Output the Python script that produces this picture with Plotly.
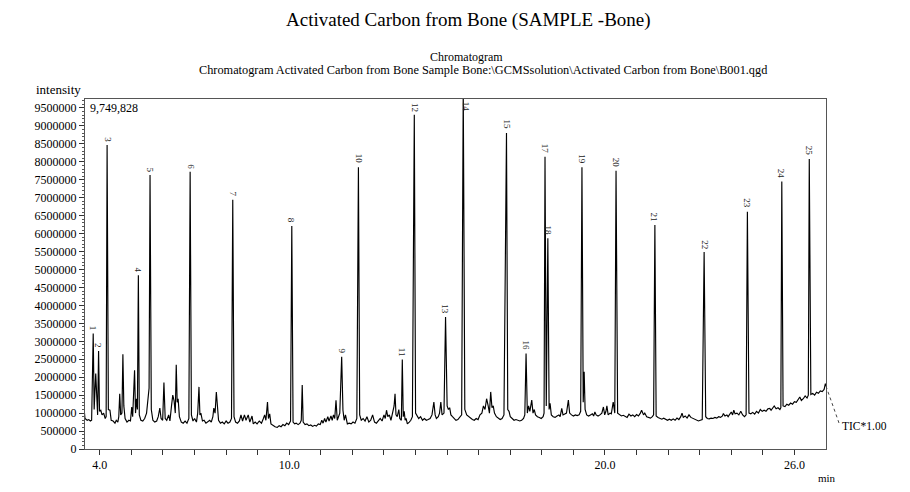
import plotly.graph_objects as go

# ---------------- data ----------------
peak_no = list(range(1, 26))
peak_rt = [3.79, 3.96, 4.23, 5.22, 5.59, 6.86, 8.21, 10.08, 11.66, 12.19,
           13.58, 13.96, 14.95, 15.51, 16.88, 17.50, 18.10, 18.19, 19.27, 20.35,
           21.58, 23.14, 24.51, 25.60, 26.47]
peak_height = [3220000, 2730000, 8470000, 4840000, 7630000, 7720000, 6940000, 6210000,
               2570000, 7850000, 2490000, 9310000, 3680000, 10050000, 8800000, 2660000,
               8140000, 5870000, 7850000, 7750000, 6240000, 5490000, 6610000, 7450000,
               8080000]

# baseline / minor peaks of the TIC trace (retention time in min, intensity in millions)
base_rt = [3.50, 3.53, 3.60, 3.65, 3.70, 3.74, 3.82, 3.87, 3.91, 3.93, 3.99, 4.03, 4.07, 4.12,
           4.17, 4.20, 4.27, 4.32, 4.36, 4.42, 4.48, 4.52, 4.57, 4.60, 4.63, 4.66, 4.70, 4.73,
           4.76, 4.80, 4.86, 4.92, 4.97, 5.01, 5.04, 5.10, 5.13, 5.16, 5.19, 5.25, 5.30, 5.36,
           5.42, 5.48, 5.52, 5.56, 5.63, 5.68, 5.74, 5.80, 5.85, 5.90, 5.94, 5.99, 6.03, 6.07,
           6.12, 6.18, 6.22, 6.27, 6.31, 6.35, 6.39, 6.42, 6.45, 6.48, 6.52, 6.58, 6.64, 6.70,
           6.76, 6.82, 6.90, 6.95, 7.00, 7.06, 7.10, 7.14, 7.17, 7.20, 7.25, 7.30, 7.36, 7.42,
           7.48, 7.53, 7.58, 7.61, 7.65, 7.69, 7.72, 7.76, 7.82, 7.88, 7.94, 8.00, 8.06, 8.12,
           8.17, 8.25, 8.30, 8.36, 8.42, 8.47, 8.52, 8.58, 8.63, 8.70, 8.75, 8.82, 8.86, 8.92,
           8.98, 9.05, 9.12, 9.18, 9.22, 9.26, 9.31, 9.34, 9.38, 9.42, 9.48, 9.55, 9.62, 9.68,
           9.74, 9.80, 9.86, 9.92, 9.98, 10.04, 10.12, 10.17, 10.22, 10.28, 10.34, 10.38, 10.41,
           10.44, 10.50, 10.56, 10.62, 10.68, 10.74, 10.80, 10.86, 10.92, 10.98, 11.03, 11.07,
           11.12, 11.16, 11.22, 11.26, 11.32, 11.36, 11.40, 11.44, 11.48, 11.52, 11.56, 11.60,
           11.70, 11.74, 11.78, 11.84, 11.90, 11.96, 12.02, 12.08, 12.14, 12.23, 12.28, 12.34,
           12.40, 12.46, 12.52, 12.58, 12.64, 12.70, 12.76, 12.82, 12.88, 12.94, 13.00, 13.04,
           13.08, 13.12, 13.17, 13.22, 13.28, 13.32, 13.35, 13.38, 13.42, 13.47, 13.50, 13.55,
           13.61, 13.64, 13.67, 13.70, 13.74, 13.80, 13.85, 13.90, 14.00, 14.05, 14.10, 14.16,
           14.22, 14.28, 14.34, 14.40, 14.46, 14.52, 14.58, 14.62, 14.66, 14.72, 14.76, 14.80,
           14.84, 14.90, 15.00, 15.04, 15.08, 15.12, 15.17, 15.22, 15.28, 15.34, 15.40, 15.46,
           15.56, 15.62, 15.68, 15.74, 15.80, 15.86, 15.92, 15.98, 16.04, 16.10, 16.15, 16.20,
           16.25, 16.30, 16.34, 16.38, 16.42, 16.46, 16.50, 16.56, 16.62, 16.68, 16.74, 16.80,
           16.92, 16.96, 17.00, 17.06, 17.12, 17.18, 17.24, 17.30, 17.36, 17.42, 17.46, 17.54,
           17.58, 17.62, 17.68, 17.72, 17.76, 17.80, 17.86, 17.92, 17.98, 18.04, 18.07, 18.14,
           18.23, 18.26, 18.30, 18.36, 18.42, 18.48, 18.54, 18.58, 18.63, 18.67, 18.72, 18.78,
           18.84, 18.88, 18.94, 19.00, 19.06, 19.12, 19.18, 19.23, 19.31, 19.34, 19.37, 19.42,
           19.48, 19.54, 19.60, 19.64, 19.68, 19.72, 19.78, 19.84, 19.90, 19.95, 19.99, 20.03,
           20.06, 20.10, 20.16, 20.20, 20.26, 20.31, 20.40, 20.46, 20.52, 20.58, 20.64, 20.70,
           20.76, 20.82, 20.88, 20.94, 21.00, 21.06, 21.12, 21.16, 21.22, 21.26, 21.32, 21.38,
           21.44, 21.50, 21.54, 21.62, 21.68, 21.74, 21.80, 21.86, 21.92, 21.98, 22.04, 22.10,
           22.16, 22.22, 22.28, 22.34, 22.40, 22.44, 22.48, 22.54, 22.60, 22.66, 22.72, 22.78,
           22.84, 22.90, 22.96, 23.02, 23.08, 23.19, 23.24, 23.30, 23.36, 23.42, 23.48, 23.54,
           23.60, 23.66, 23.72, 23.75, 23.80, 23.86, 23.90, 23.96, 24.00, 24.04, 24.08, 24.12,
           24.18, 24.24, 24.30, 24.36, 24.42, 24.47, 24.56, 24.62, 24.68, 24.74, 24.80, 24.86,
           24.92, 24.98, 25.04, 25.10, 25.16, 25.22, 25.26, 25.32, 25.36, 25.42, 25.48, 25.54,
           25.57, 25.64, 25.70, 25.76, 25.82, 25.88, 25.94, 26.00, 26.06, 26.12, 26.17, 26.22,
           26.28, 26.34, 26.40, 26.44, 26.52, 26.58, 26.64, 26.70, 26.76, 26.82, 26.88, 26.94,
           26.98, 27.00]
base_int_m = [1.13, 0.85, 0.80, 0.82, 0.78, 0.80, 1.10, 2.10, 1.00, 0.95, 1.05, 1.08, 0.95, 1.00,
              0.85, 0.90, 1.10, 1.08, 0.80, 0.78, 0.72, 0.80, 0.75, 0.90, 1.54, 0.95, 1.00, 2.64,
              1.20, 0.85, 0.75, 0.80, 0.78, 1.17, 0.90, 2.19, 1.00, 1.40, 1.10, 0.95, 0.80, 0.78,
              0.85, 1.00, 1.45, 1.70, 1.10, 0.80, 0.75, 0.78, 0.90, 1.14, 0.85, 0.80, 1.85, 0.85,
              0.80, 0.95, 0.78, 1.20, 1.50, 1.35, 1.00, 2.35, 1.30, 1.40, 0.90, 0.75, 0.72, 0.78,
              0.72, 0.85, 0.95, 0.78, 0.85, 0.75, 1.00, 1.73, 0.95, 1.00, 0.78, 0.80, 0.72, 0.75,
              0.80, 0.75, 0.90, 1.14, 1.00, 1.59, 1.10, 0.80, 0.72, 0.75, 0.70, 0.78, 0.72, 0.75,
              0.85, 0.90, 0.75, 0.72, 0.78, 0.95, 0.78, 0.95, 0.80, 0.95, 0.75, 0.92, 0.70, 0.75,
              0.70, 0.78, 0.72, 0.85, 0.95, 0.80, 1.31, 0.85, 0.98, 0.70, 0.65, 0.62, 0.60, 0.65,
              0.62, 0.68, 0.65, 0.72, 0.68, 0.78, 0.75, 0.70, 0.72, 0.68, 0.72, 0.80, 1.78,
              0.75, 0.68, 0.70, 0.65, 0.67, 0.63, 0.66, 0.64, 0.70, 0.68, 0.80, 0.72,
              0.85, 0.75, 0.90, 0.78, 0.92, 0.80, 0.95, 0.85, 1.36, 0.80, 0.90, 1.00,
              1.08, 0.80, 0.95, 0.70, 0.72, 0.70, 0.75, 0.72, 0.85, 0.95, 0.80, 0.85,
              0.78, 0.90, 0.75, 0.80, 0.95, 0.75, 0.72, 0.80, 0.85, 0.78, 0.95, 0.85,
              1.08, 0.90, 0.95, 0.80, 1.00, 1.20, 1.54, 0.95, 0.90, 1.10, 0.85, 0.80,
              0.90, 1.05, 0.80, 0.85, 0.70, 0.75, 0.80, 0.90, 1.00, 0.90, 0.85, 0.90,
              0.80, 0.85, 0.80, 0.82, 0.85, 0.95, 1.31, 0.95, 0.85, 0.90, 1.00, 1.31,
              0.95, 1.00, 1.20, 1.10, 1.15, 0.95, 0.90, 0.85, 0.80, 0.82, 0.88, 0.95,
              1.10, 0.95, 0.90, 0.85, 0.82, 0.80, 0.85, 0.82, 0.95, 1.00, 1.20, 1.10,
              1.40, 1.20, 1.00, 1.59, 1.15, 1.20, 1.00, 0.90, 0.85, 0.82, 0.85, 0.95,
              1.10, 1.05, 0.90, 0.85, 0.80, 0.82, 0.80, 0.78, 0.80, 0.85, 0.95, 1.00,
              1.20, 1.05, 1.36, 1.00, 1.10, 0.95, 0.90, 0.88, 0.85, 0.90, 1.00, 1.20,
              1.10, 1.27, 0.95, 0.90, 0.88, 0.92, 0.95, 0.90, 1.13, 0.95, 0.98, 1.00,
              1.36, 1.00, 0.95, 0.92, 0.95, 0.93, 0.95, 1.05, 1.30, 2.15, 1.10, 0.95,
              0.92, 0.95, 0.98, 0.92, 1.03, 0.95, 0.92, 0.95, 1.00, 1.17, 0.95, 1.05,
              1.20, 0.95, 1.00, 0.98, 1.31, 1.00, 1.00, 0.95, 0.92, 0.94, 0.90, 0.88,
              0.97, 0.92, 0.95, 0.90, 0.96, 0.92, 1.00, 1.08, 0.95, 1.00, 0.90, 0.88,
              0.86, 0.90, 0.95, 0.92, 0.88, 0.85, 0.83, 0.86, 0.82, 0.80, 0.83, 0.80,
              0.84, 0.80, 0.86, 0.82, 0.90, 1.00, 0.88, 0.92, 0.86, 0.95, 0.88, 0.85,
              0.82, 0.80, 0.78, 0.80, 0.82, 0.90, 0.85, 0.84, 0.86, 0.85, 0.88, 0.86,
              0.90, 0.88, 0.92, 0.99, 0.92, 0.95, 0.90, 1.00, 1.03, 0.95, 1.08, 0.98,
              1.00, 0.95, 1.05, 0.95, 0.90, 0.95, 1.00, 0.98, 1.02, 0.97, 1.05, 1.00,
              1.10, 1.05, 1.08, 1.05, 1.12, 1.13, 1.08, 1.15, 1.20, 1.12, 1.15, 1.10,
              1.15, 1.20, 1.18, 1.25, 1.22, 1.28, 1.25, 1.32, 1.30, 1.38, 1.45, 1.35,
              1.40, 1.48, 1.42, 1.50, 1.52, 1.55, 1.50, 1.58, 1.55, 1.62, 1.60, 1.66,
              1.82, 1.75]

x_tick_vals = [4, 5, 6, 7, 8, 9, 10, 11, 12, 13, 14, 15, 16, 17, 18, 19, 20, 21, 22, 23, 24, 25, 26]
x_label_vals = [4.0, 10.0, 20.0, 26.0]
y_top_value = 9749828
x_range = [3.53, 27.0]

# ---------------- build trace ----------------
pts = sorted(list(zip(base_rt, [v * 1e6 for v in base_int_m])) + list(zip(peak_rt, peak_height)))
tic_rt = [p[0] for p in pts]
tic_int = [p[1] for p in pts]

SERIF = "Liberation Serif, Times New Roman, serif"

fig = go.Figure()
fig.add_trace(go.Scatter(x=tic_rt, y=tic_int, mode="lines",
                         line=dict(color="#000000", width=1.15), hoverinfo="skip",
                         showlegend=False))

# peak number labels
for n, rt, h in zip(peak_no, peak_rt, peak_height):
    clipped = h > y_top_value
    fig.add_annotation(x=rt, y=min(h, y_top_value), xref="x", yref="y",
                       text=str(n), showarrow=False, textangle=90,
                       xanchor="center", yanchor="top" if clipped else "bottom",
                       xshift=3 if clipped else 0,
                       yshift=-1 if clipped else 1,
                       font=dict(family=SERIF, size=9, color="#222222"))

# page body has an 8px margin: the figure is sized so the plot lands where the reference has it
OFF = 8
W, H = 910 - 2 * OFF, 492 - 2 * OFF
PL, PR, PT, PB = 85, 826, 99, 449          # plot frame in window pixels
L, R, T, B = PL - OFF, (910 - OFF) - PR, PT - OFF, (492 - OFF) - PB
pw, ph = PR - PL, PB - PT


def px(xp):
    return (xp - PL) / pw


def py(yp):
    return (PB - yp) / ph


txt = [
    ("Activated Carbon from Bone (SAMPLE -Bone)", 468, 20, 19, "center"),
    ("Chromatogram", 466, 57, 12, "center"),
    ("Chromatogram Activated Carbon from Bone Sample Bone:\\GCMSsolution\\Activated Carbon from Bone\\B001.qgd",
     483, 69.5, 12.3, "center"),
    ("intensity", 34, 89, 13, "left"),
    ("9,749,828", 88, 108, 12, "left"),
    ("min", 816, 478, 11, "left"),
    ("TIC*1.00", 840, 426, 11.5, "left"),
]
for t, xp, yp, fs, xa in txt:
    fig.add_annotation(x=px(xp), y=py(yp), xref="paper", yref="paper", text=t,
                       showarrow=False, xanchor=xa, yanchor="middle",
                       font=dict(family=SERIF, size=fs, color="#000000"))

# dashed leader from trace end to TIC label
fig.add_shape(type="line", xref="paper", yref="paper",
              x0=1.0, y0=tic_int[-1] / y_top_value, x1=px(839), y1=py(423),
              line=dict(color="#444444", width=1, dash="dot"))

fig.update_layout(
    width=W, height=H,
    margin=dict(l=L, r=R, t=T, b=B, pad=0),
    paper_bgcolor="white", plot_bgcolor="white",
    font=dict(family=SERIF, color="#000000"),
    showlegend=False,
)
fig.update_xaxes(
    range=x_range, showgrid=False, zeroline=False,
    showline=True, linecolor="#555555", linewidth=1, mirror=True,
    ticks="outside", ticklen=5, tickcolor="#333333", tickwidth=1,
    tickmode="array", tickvals=x_tick_vals,
    ticktext=[f"{v:.1f}" if v in x_label_vals else "" for v in x_tick_vals],
    tickfont=dict(family=SERIF, size=12, color="#000000"),
)
fig.update_yaxes(
    range=[0, y_top_value], showgrid=False, zeroline=False,
    showline=True, linecolor="#555555", linewidth=1, mirror=True,
    ticks="outside", ticklen=5, tickcolor="#333333", tickwidth=1,
    tick0=0, dtick=500000, tickformat="d",
    minor=dict(ticks="outside", ticklen=2, dtick=100000, tickcolor="#555555", showgrid=False),
    tickfont=dict(family=SERIF, size=12, color="#000000"),
)

fig.write_html("out.html")
